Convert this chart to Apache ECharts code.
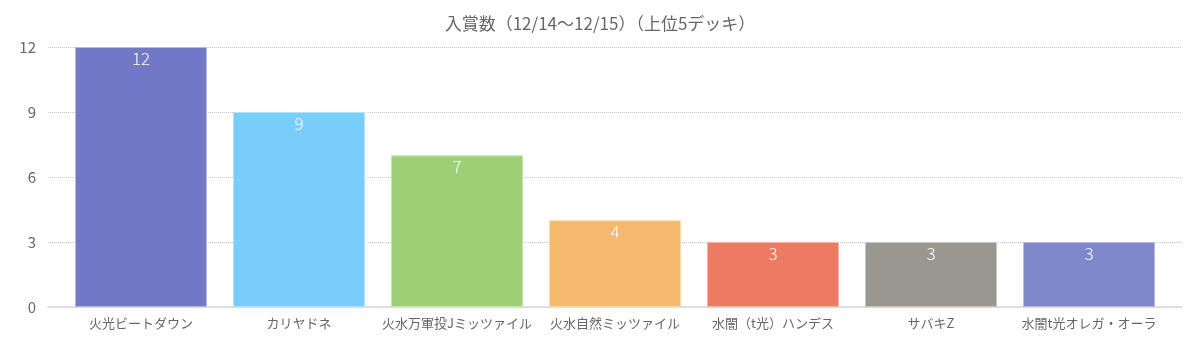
<!DOCTYPE html>
<html>
<head>
<meta charset="utf-8">
<script src="https://cdn.jsdelivr.net/npm/echarts@6/dist/echarts.min.js"></script>
<style>
  html, body { margin: 0; padding: 0; background: #fff; }
  #chart { width: 1200px; height: 353px; }
</style>
</head>
<body>
<div id="chart"></div>
<script>
// 入賞数データ
var categories = ['火光ビートダウン', 'カリヤドネ', '火水万軍投Jミッツァイル', '火水自然ミッツァイル', '水闇（t光）ハンデス', 'サバキZ', '水闇t光オレガ・オーラ']
var values = [12, 9, 7, 4, 3, 3, 3]
var barColors = ['#7179c6', '#79cdfb', '#9dcf77', '#f5b96e', '#ed7b61', '#9a9791', '#8088cc']
var borderColors = ['#b4b9e4', '#b0e3fd', '#c6e4b0', '#fad7ad', '#f5b3a4', '#c8c6c2', '#b6bbe4']
var yTicks = [0, 3, 6, 9, 12]

var font = '"Noto Sans CJK JP", "Noto Sans", sans-serif'
var chart = echarts.init(document.getElementById('chart'))

chart.setOption({
  backgroundColor: '#fff',
  textStyle: { fontFamily: font },
  title: {
    text: '入賞数（12/14〜12/15）（上位5デッキ）',
    left: 'center',
    top: 10,
    textStyle: { fontSize: 17, fontWeight: 'normal', color: '#666', fontFamily: font }
  },
  grid: [
    // 目盛・グリッド線用
    { left: 48, right: 18, top: 47, bottom: 46 },
    // 棒グラフ用
    { left: 62, right: 32, top: 47, bottom: 46 }
  ],
  xAxis: [{
    gridIndex: 0,
    type: 'category',
    data: [''],
    axisLine: { lineStyle: { color: '#d8d8d8', width: 1.5 } },
    axisTick: { show: false },
    axisLabel: { show: false }
  }, {
    gridIndex: 1,
    type: 'category',
    data: categories,
    axisLine: { show: false },
    axisTick: { show: false },
    axisLabel: { color: '#666', fontSize: 13, margin: 10, interval: 0, fontFamily: font }
  }],
  yAxis: [{
    gridIndex: 0,
    type: 'value',
    min: 0,
    max: 12,
    interval: 3,
    axisLine: { show: false },
    axisTick: { show: false },
    axisLabel: { color: '#666', fontSize: 15, margin: 12, fontFamily: font,
      formatter: function (v) { return yTicks.indexOf(v) >= 0 ? String(v) : '' } },
    splitLine: { lineStyle: { color: '#c8c8c8', type: 'dotted', width: 1 } }
  }, {
    gridIndex: 1,
    type: 'value',
    min: 0,
    max: 12,
    interval: 3,
    show: false
  }],
  series: [{
    type: 'bar',
    xAxisIndex: 1,
    yAxisIndex: 1,
    data: values.map(function (v, i) {
      return {
        value: v,
        itemStyle: { color: barColors[i], borderColor: borderColors[i], borderWidth: 1 }
      }
    }),
    barWidth: 132,
    label: {
      show: true,
      position: 'insideTop',
      distance: 3,
      color: '#fff',
      fontSize: 17,
      fontWeight: 300,
      fontFamily: font
    },
    animation: false
  }]
})
</script>
</body>
</html>
